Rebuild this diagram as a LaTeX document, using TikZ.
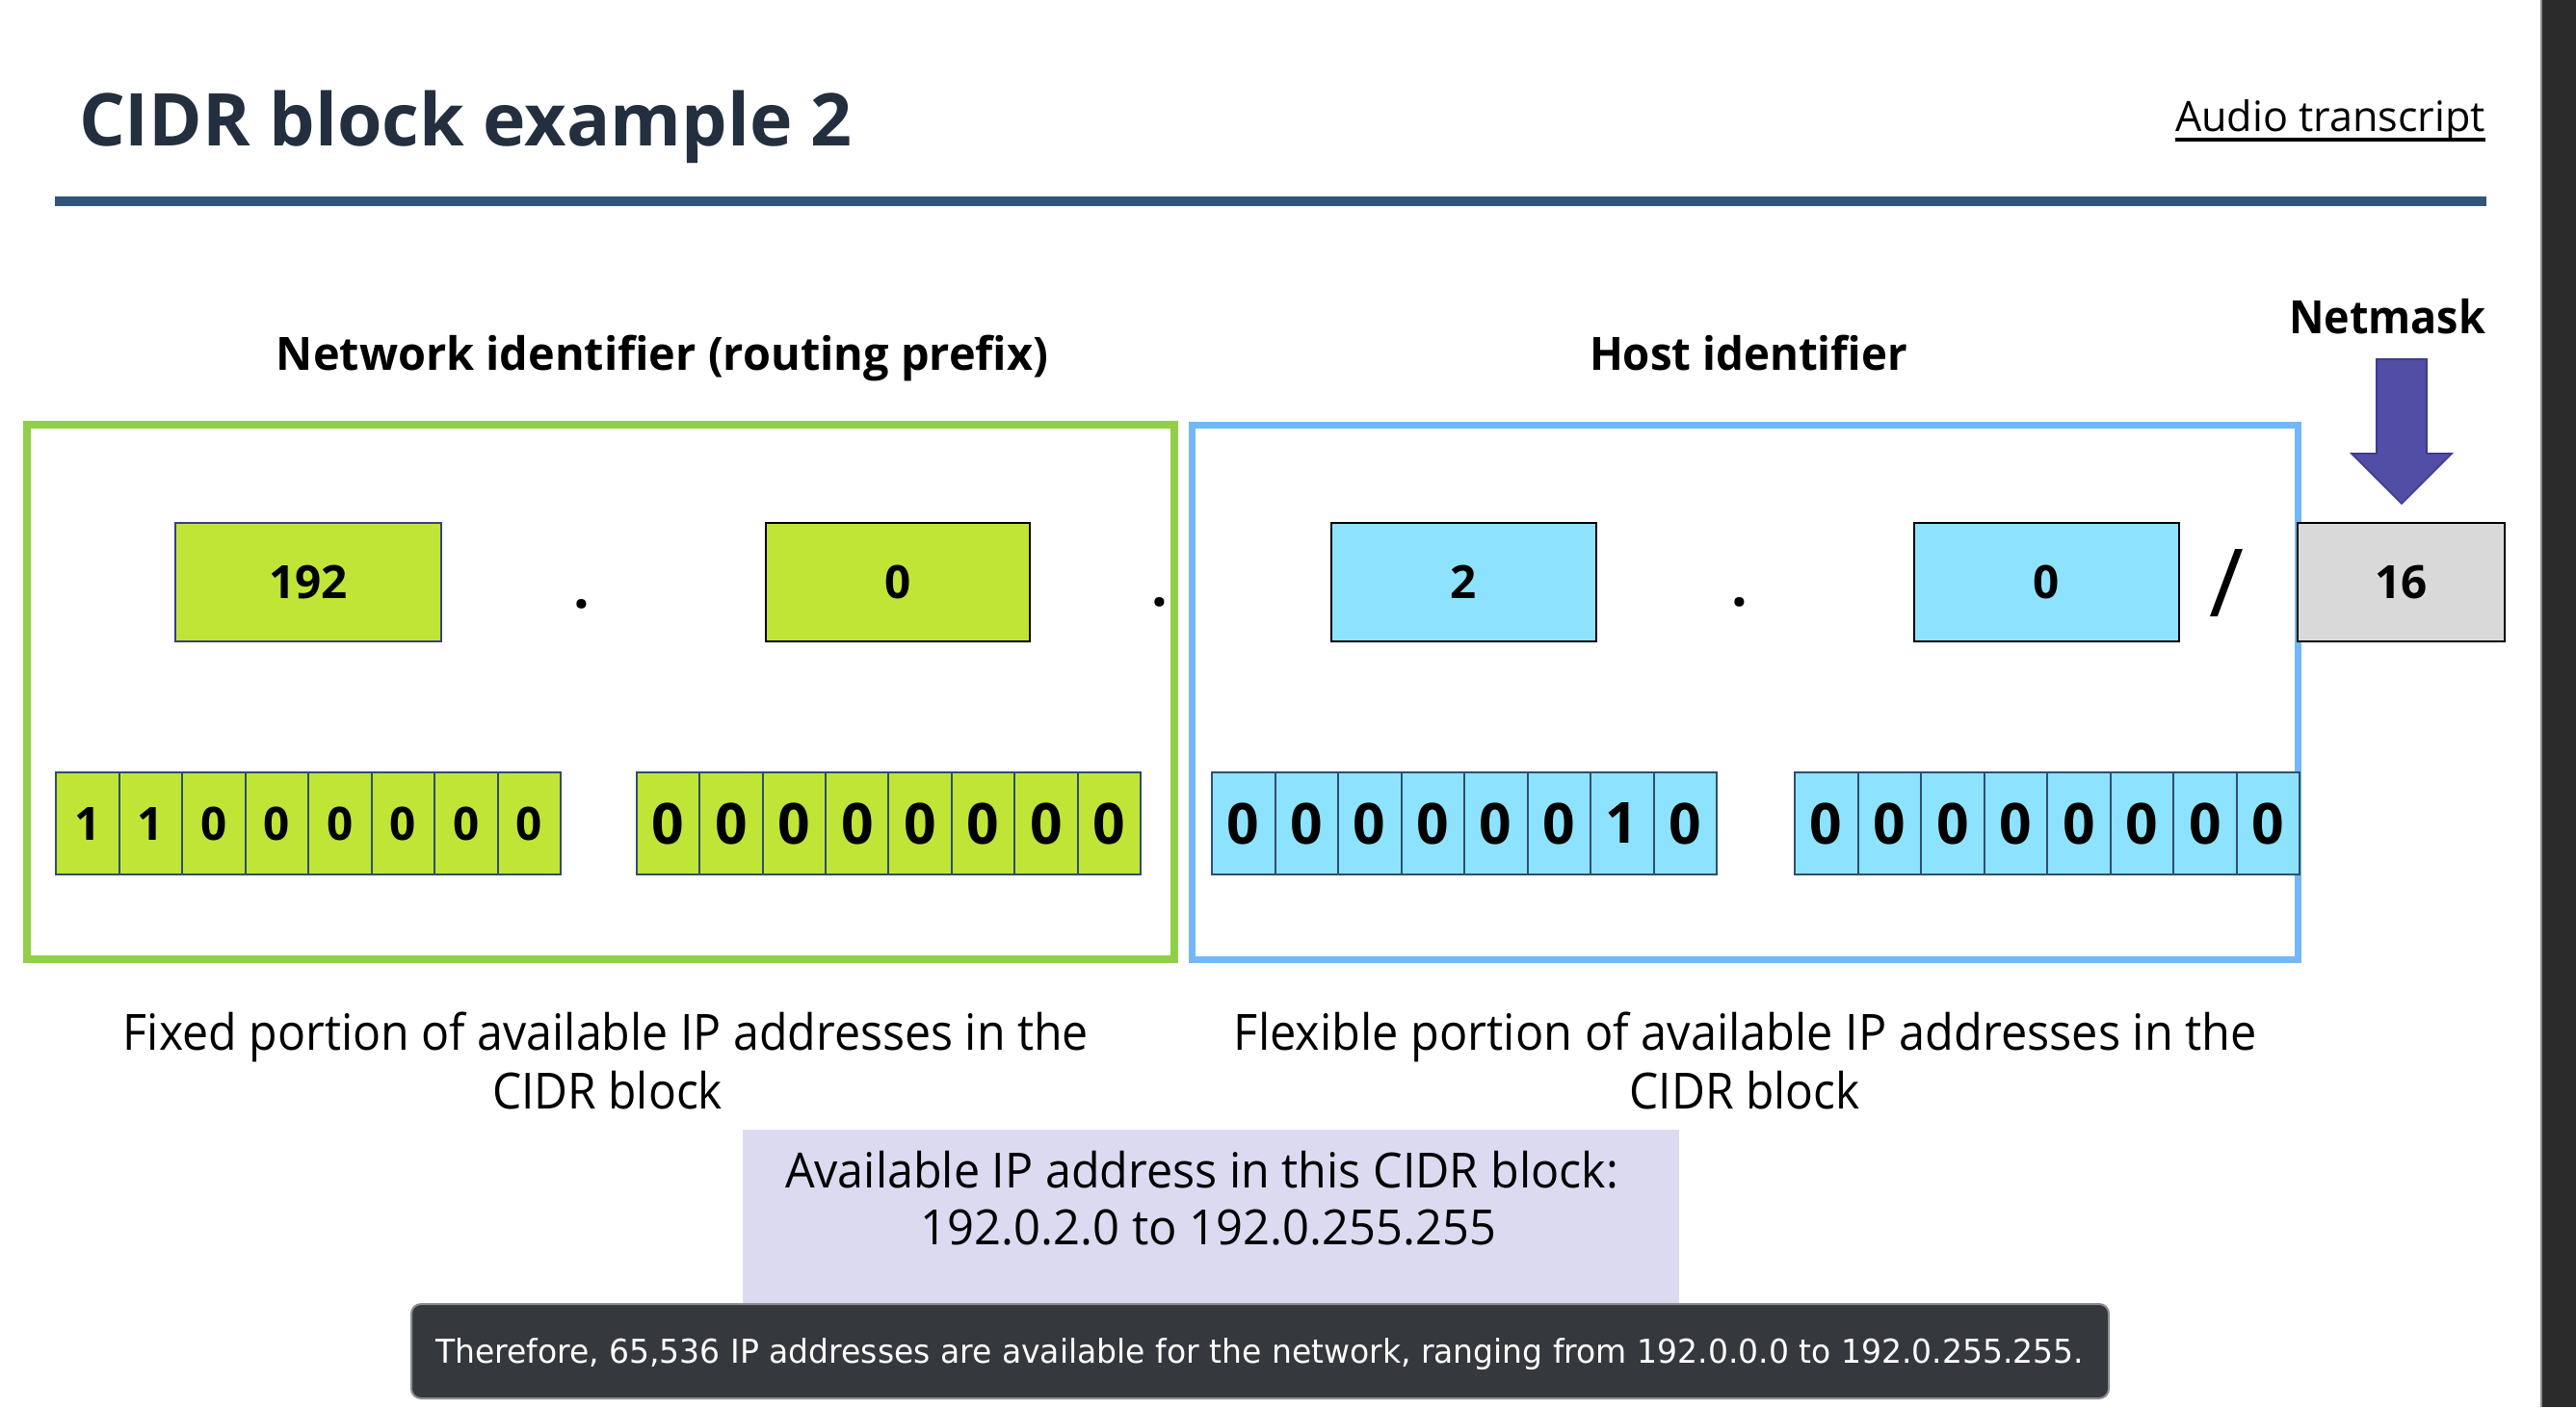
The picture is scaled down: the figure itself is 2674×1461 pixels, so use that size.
\documentclass[tikz,border=0pt]{standalone}
\usepackage{fontspec}
\usepackage{graphicx}
\setmainfont{Open Sans}
\newfontfamily\capfont{DejaVu Sans}
\usetikzlibrary{calc}

% stretch a line of text horizontally to a given width, keeping its height
\newcommand{\fitto}[2]{\resizebox{#1}{\height}{#2}}

\definecolor{titlecol}{HTML}{232F3E}
\definecolor{rulecol}{HTML}{31557A}
\definecolor{netgreen}{HTML}{92CF48}
\definecolor{hostblue}{HTML}{72B8F8}
\definecolor{limefill}{HTML}{C0E536}
\definecolor{cyanfill}{HTML}{8DE3FE}
\definecolor{grayfill}{HTML}{D9D9D9}
\definecolor{arrowfill}{HTML}{524EA6}
\definecolor{arrowline}{HTML}{3E3B8E}
\definecolor{lavender}{HTML}{DCDAF0}
\definecolor{capbg}{HTML}{35383C}
\definecolor{capedge}{HTML}{8C8E91}
\definecolor{sidebar}{HTML}{2B2B2B}
\definecolor{bitline}{HTML}{2F4E6E}
\definecolor{boxnavy}{HTML}{3C3C8C}

\tikzset{
  every node/.style={inner sep=0pt, outer sep=0pt},
  heading/.style={font=\bfseries\fontsize{23.8pt}{26pt}\selectfont},
  bodytext/.style={font=\fontsize{25.9pt}{28pt}\selectfont},
  availtext/.style={font=\fontsize{25.2pt}{28pt}\selectfont},
  decbox/.style={draw=black, line width=1pt, minimum height=61.5pt,
    font=\bfseries\fontsize{23.8pt}{26pt}\selectfont},
  bitcell/.style={draw=bitline, line width=1pt, minimum width=32.75pt,
    minimum height=53pt},
  bitsmall/.style={bitcell, font=\bfseries\fontsize{23.8pt}{26pt}\selectfont},
  bitbig/.style={bitcell, font=\bfseries\fontsize{29.4pt}{32pt}\selectfont},
  dotsep/.style={font=\bfseries\fontsize{29.4pt}{32pt}\selectfont},
}

\begin{document}
\begin{tikzpicture}[x=0.5pt, y=-0.5pt]
\useasboundingbox (0,0) rectangle (2674,1461);
\fill[white] (0,0) rectangle (2674,1461);

% dark strip on the right edge
\fill[sidebar] (2638,0) rectangle (2674,1461);
\draw[capedge, line width=1pt] (2637.5,0) -- (2637.5,1461);

% header
\node[anchor=base west, text=titlecol,
  font=\bfseries\fontsize{37.8pt}{40pt}\selectfont] (title) at (82,151)
  {\fitto{401.5pt}{CIDR block example 2}};
\fill[rulecol] (57,204) rectangle (2581,214);
\node[anchor=base east, font=\fontsize{21.7pt}{24pt}\selectfont] (audio) at (2580,136)
  {\fitto{161pt}{Audio transcript}};
\draw[line width=2pt] ($(audio.base west)+(0,9)$) -- ($(audio.base east)+(0,9)$);

% section headings
\node[anchor=base, heading] (nethead) at (687.5,384)
  {\fitto{400.5pt}{Network identifier (routing prefix)}};
\node[anchor=base, heading] (hosthead) at (1815,384)
  {\fitto{165pt}{Host identifier}};
\node[anchor=base east, heading] (netmask) at (2580,346)
  {\fitto{102pt}{Netmask}};

% frames around network and host parts
\draw[netgreen, line width=4pt] (28,441) rectangle (1219,996);
\draw[hostblue, line width=3.5pt] (1237,441) rectangle (2385,996);

% netmask block arrow
\filldraw[fill=arrowfill, draw=arrowline, line width=0.8pt]
  (2467,373) -- (2519,373) -- (2519,471) -- (2545,471) -- (2493,523)
  -- (2441,471) -- (2467,471) -- cycle;

% dotted-decimal octets
\node[decbox, draw=boxnavy, fill=limefill, minimum width=138pt] (oct1) at (320,604.5) {192};
\node[decbox, fill=limefill, minimum width=137pt] (oct2) at (932,604.5) {0};
\node[decbox, fill=cyanfill, minimum width=137.5pt] (oct3) at (1519.5,604.5) {2};
\node[decbox, fill=cyanfill, minimum width=137.5pt] (oct4) at (2124.5,604.5) {0};
\node[decbox, fill=grayfill, minimum width=107.5pt] (prefix) at (2492.5,604.5) {16};

\node[dotsep] (dot1) at (604,627) {.};
\node[dotsep] (dot2) at (1204,625) {.};
\node[dotsep] (dot3) at (1806,625) {.};
\node[font=\fontsize{49pt}{50pt}\selectfont] (slash) at (2311.5,606) {\fitto{18pt}{/}};

% binary octets
\foreach \b [count=\i] in {1,1,0,0,0,0,0,0}
  \node[bitsmall, fill=limefill] (bitA\i) at ({58+65.5*(\i-0.5)},855) {\b};
\foreach \b [count=\i] in {0,0,0,0,0,0,0,0}
  \node[bitbig, fill=limefill] (bitB\i) at ({661+65.375*(\i-0.5)},855) {\b};
\foreach \b [count=\i] in {0,0,0,0,0,0,1,0}
  \node[bitbig, fill=cyanfill] (bitC\i) at ({1258+65.5*(\i-0.5)},855) {\b};
\foreach \b [count=\i] in {0,0,0,0,0,0,0,0}
  \node[bitbig, fill=cyanfill] (bitD\i) at ({1863+65.5*(\i-0.5)},855) {\b};

% descriptions under the frames
\node[anchor=base, bodytext] (fix1) at (629,1090)
  {\fitto{501pt}{Fixed portion of available IP addresses in the}};
\node[anchor=base, bodytext] (fix2) at (630.5,1151)
  {\fitto{119.5pt}{CIDR block}};
\node[anchor=base, bodytext] (flex1) at (1812,1090)
  {\fitto{531pt}{Flexible portion of available IP addresses in the}};
\node[anchor=base, bodytext] (flex2) at (1811,1151)
  {\fitto{119.5pt}{CIDR block}};

% address range panel
\fill[lavender] (771,1173) rectangle (1743,1385);
\node[anchor=base, availtext] (avail1) at (1247.5,1233)
  {\fitto{432.5pt}{Available IP address in this CIDR block:}};
\node[anchor=base, availtext] (avail2) at (1254.5,1292)
  {\fitto{298.5pt}{192.0.2.0 to 192.0.255.255}};

% caption bar
\filldraw[fill=capbg, draw=capedge, line width=1pt, rounded corners=5pt]
  (427,1354) rectangle (2189,1452);
\node[anchor=base west, text=white, font=\capfont\fontsize{17.1pt}{20pt}\selectfont]
  (caption) at (452,1415)
  {\fitto{855.5pt}{Therefore, 65,536 IP addresses are available for the network, ranging from 192.0.0.0 to 192.0.255.255.}};
\end{tikzpicture}
\end{document}
